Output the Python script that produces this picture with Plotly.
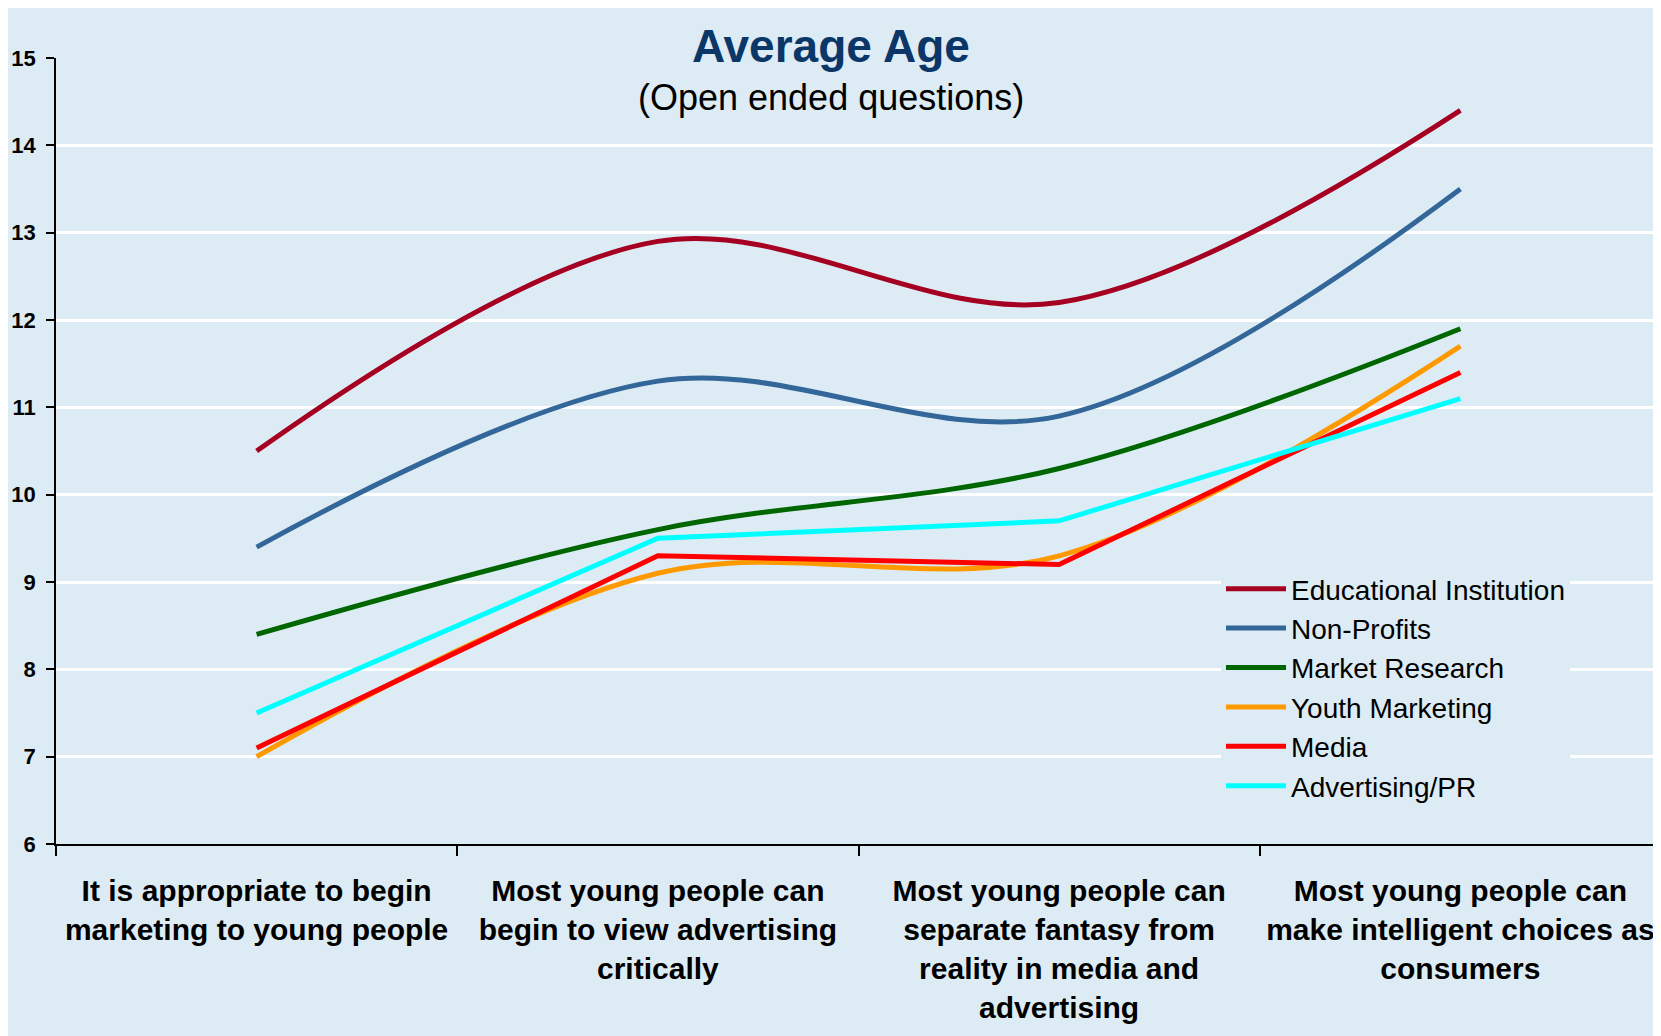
import plotly.graph_objects as go

# ---- data ----
categories = [
    "It is appropriate to begin<br>marketing to young people",
    "Most young people can<br>begin to view advertising<br>critically",
    "Most young people can<br>separate fantasy from<br>reality in media and<br>advertising",
    "Most young people can<br>make intelligent choices as<br>consumers",
]
series_names = ["Educational Institution", "Non-Profits", "Market Research",
                "Youth Marketing", "Media", "Advertising/PR"]
educational = [10.5, 12.9, 12.2, 14.4]
non_profits = [9.4, 11.3, 10.9, 13.5]
market_research = [8.4, 9.6, 10.3, 11.9]
youth_marketing = [7.0, 9.1, 9.3, 11.7]
media = [7.1, 9.3, 9.2, 11.4]
advertising_pr = [7.5, 9.5, 9.7, 11.1]
y_tick_values = [6, 7, 8, 9, 10, 11, 12, 13, 14, 15]

series_values = [educational, non_profits, market_research,
                 youth_marketing, media, advertising_pr]
colors = ["#A50021", "#336699", "#006600", "#FF9900", "#FF0000", "#00FFFF"]
shapes_ = ["spline", "spline", "spline", "spline", "linear", "linear"]

BG = "#DDEBF4"
FONT = "Liberation Sans, Arial, Helvetica, sans-serif"

fig = go.Figure()
for name, vals, col, shp in zip(series_names, series_values, colors, shapes_):
    fig.add_trace(go.Scatter(
        x=categories, y=vals, name=name, mode="lines",
        line=dict(color=col, width=5, shape=shp),
    ))

W, H = 1653, 1028
L, R, T, B = 48, 0, 50, 192
pw, ph = W - L - R, H - T - B

def px_x(x):
    return (x - L) / pw

def px_y(y):
    return (H - B - y) / ph

fig.update_layout(
    width=W, height=H,
    margin=dict(l=L, r=R, t=T, b=B, pad=0),
    paper_bgcolor=BG,
    plot_bgcolor=BG,
    font=dict(family=FONT, color="black"),
    showlegend=True,
    legend=dict(
        x=px_x(1213), y=px_y(556), xanchor="left", yanchor="top",
        bgcolor=BG, borderwidth=0, itemwidth=60,
        font=dict(family=FONT, size=28, color="black"),
        traceorder="normal",
    ),
    annotations=[
        dict(text="Average Age", xref="paper", yref="paper",
             x=px_x(823), y=px_y(38), xanchor="center", yanchor="middle",
             showarrow=False,
             font=dict(family=FONT, size=46, color="#0B3668", weight="bold")),
        dict(text="(Open ended questions)", xref="paper", yref="paper",
             x=px_x(823), y=px_y(89), xanchor="center", yanchor="middle",
             showarrow=False,
             font=dict(family=FONT, size=36, color="black")),
    ],
)

fig.update_xaxes(
    type="category", range=[-0.5, 3.5], automargin=False,
    showline=True, linecolor="black", linewidth=1.5,
    ticks="outside", tickson="boundaries", ticklen=10,
    tickcolor="black", tickwidth=1.5,
    showgrid=False, tickangle=0,
    tickfont=dict(family=FONT, size=30, color="black", weight="bold"),
    ticklabelstandoff=19,
)
fig.update_yaxes(
    range=[6, 15], tickvals=y_tick_values, automargin=False,
    showgrid=True, gridcolor="white", gridwidth=3,
    showline=True, linecolor="black", linewidth=1.5,
    ticks="outside", ticklen=8, tickcolor="black", tickwidth=1.5,
    zeroline=False,
    tickfont=dict(family=FONT, size=22, color="black", weight="bold"),
    ticklabelstandoff=6,
)

fig.write_html(
    "out.html",
    post_script=(
        "document.documentElement.style.overflow='hidden';"
        "document.body.style.overflow='hidden';"
    ),
)
